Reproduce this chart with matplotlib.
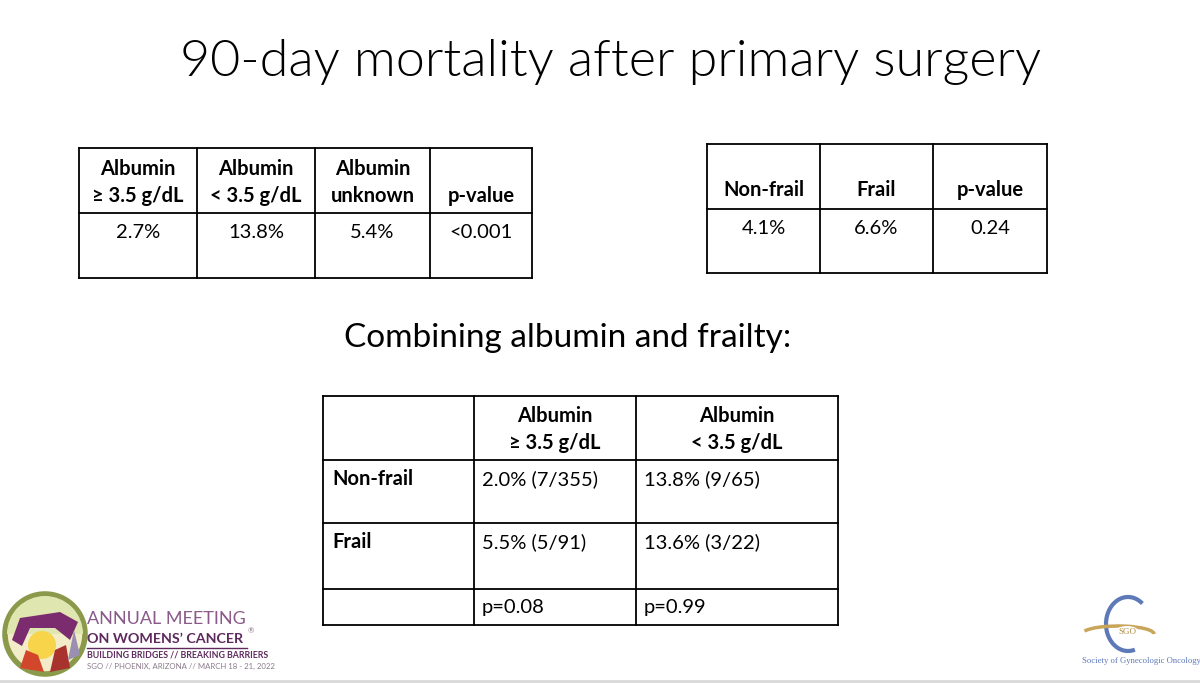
import matplotlib

matplotlib.use("Agg")
import matplotlib.pyplot as plt
from matplotlib.patches import Circle, Wedge, Polygon, Arc, Ellipse

plt.rcParams["font.family"] = ["Lato", "DejaVu Sans"]

title = "90-day mortality after primary surgery"
subtitle = "Combining albumin and frailty:"

# table 1: albumin
albumin_headers = ["Albumin\n\u2265 3.5 g/dL", "Albumin\n< 3.5 g/dL", "Albumin\nunknown", "p-value"]
albumin_values = ["2.7%", "13.8%", "5.4%", "<0.001"]

# table 2: frailty
frailty_headers = ["Non-frail", "Frail", "p-value"]
frailty_values = ["4.1%", "6.6%", "0.24"]

# table 3: combined
combo_cols = ["Albumin\n\u2265 3.5 g/dL", "Albumin\n< 3.5 g/dL"]
combo_rows = ["Non-frail", "Frail", ""]
combo_values = [
    ["2.0% (7/355)", "13.8% (9/65)"],
    ["5.5% (5/91)", "13.6% (3/22)"],
    ["p=0.08", "p=0.99"],
]

W, H = 1200, 683
fig = plt.figure(figsize=(12, 6.83), dpi=100)
ax = fig.add_axes([0, 0, 1, 1])
ax.set_xlim(0, W)
ax.set_ylim(H, 0)
ax.axis("off")

LW = 1.3
FS = 14.5


def grid(xs, ys):
    for x in xs:
        ax.plot([x, x], [ys[0], ys[-1]], color="black", lw=LW, solid_capstyle="projecting")
    for y in ys:
        ax.plot([xs[0], xs[-1]], [y, y], color="black", lw=LW, solid_capstyle="projecting")


ax.text(611, 62, title, ha="center", va="center", fontsize=37.5, fontweight=300,
        color="black")
ax.text(568, 338, subtitle, ha="center", va="center", fontsize=24, color="black")

# table 1
xs1 = [79, 197, 315, 430, 532]
ys1 = [148, 213, 278]
grid(xs1, ys1)
for i, (h, v) in enumerate(zip(albumin_headers, albumin_values)):
    cx = (xs1[i] + xs1[i + 1]) / 2
    ax.text(cx, 206, h, ha="center", va="bottom", fontsize=FS, fontweight="bold",
            linespacing=1.45)
    ax.text(cx, 233, v, ha="center", va="center", fontsize=FS)

# table 2
xs2 = [707, 820, 933, 1047]
ys2 = [144, 209, 273]
grid(xs2, ys2)
for i, (h, v) in enumerate(zip(frailty_headers, frailty_values)):
    cx = (xs2[i] + xs2[i + 1]) / 2
    ax.text(cx, 190, h, ha="center", va="center", fontsize=FS, fontweight="bold")
    ax.text(cx, 228, v, ha="center", va="center", fontsize=FS)

# table 3
xs3 = [323, 474, 636, 838]
ys3 = [396, 460, 523, 589, 625]
grid(xs3, ys3)
for j, h in enumerate(combo_cols):
    cx = (xs3[j + 1] + xs3[j + 2]) / 2
    ax.text(cx, 453, h, ha="center", va="bottom", fontsize=FS, fontweight="bold",
            linespacing=1.45)
for i, r in enumerate(combo_rows):
    ty = ys3[i + 1] + 19
    ax.text(xs3[0] + 9, ty, r, ha="left", va="center", fontsize=FS, fontweight="bold")
    for j, v in enumerate(combo_values[i]):
        ax.text(xs3[j + 1] + 8, ty, v, ha="left", va="center", fontsize=FS)

# left logo (meeting badge)
ax.add_patch(Circle((45, 634), 40, facecolor="#f3ecc8", edgecolor="#8a9a4a", lw=4))
ax.add_patch(Wedge((45, 634), 38, 180, 360, facecolor="#dfe6b0", edgecolor="none"))
ax.add_patch(Circle((42, 645), 14, facecolor="#f7d44a", edgecolor="none"))
ax.add_patch(Polygon([[12, 640], [20, 618], [60, 612], [78, 622], [70, 640], [55, 628],
                      [30, 628], [22, 646]], facecolor="#7b2c6e", edgecolor="none"))
ax.add_patch(Polygon([[20, 668], [26, 650], [38, 655], [44, 672]], facecolor="#d2462c",
                     edgecolor="none"))
ax.add_patch(Polygon([[50, 672], [55, 650], [66, 645], [70, 668]], facecolor="#a8322e",
                     edgecolor="none"))
ax.add_patch(Polygon([[68, 660], [74, 630], [80, 655]], facecolor="#9a8fb0",
                     edgecolor="none"))
ax.text(87, 619, "ANNUAL MEETING", ha="left", va="center", fontsize=13, color="#8a5a8a")
ax.text(87, 639, "ON WOMENS\u2019 CANCER", ha="left", va="center", fontsize=10.3,
        fontweight="bold", color="#5e2a5e")
ax.text(248, 631, "\u00ae", ha="left", va="center", fontsize=5.5, color="#8a7a8a")
ax.plot([87, 247], [648, 648], color="#5e2a5e", lw=1)
ax.text(87, 655, "BUILDING BRIDGES // BREAKING BARRIERS", ha="left", va="center",
        fontsize=6.3, fontweight="bold", color="#5e2a5e")
ax.text(87, 666, "SGO // PHOENIX, ARIZONA // MARCH 18 - 21, 2022", ha="left", va="center",
        fontsize=5.6, color="#8a7a8a")

# right logo (SGO)
ax.add_patch(Arc((1128, 624), 44, 54, theta1=75, theta2=305, color="#5d79b8", lw=3))
ax.add_patch(Arc((1118, 634), 72, 16, theta1=185, theta2=360, color="#c9a55a", lw=2.5))
ax.add_patch(Ellipse((1127, 632), 24, 12, facecolor="white", edgecolor="none"))
ax.text(1127, 632, "SGO", ha="center", va="center", fontsize=6.5, color="#b08a40",
        family="Liberation Serif")
ax.text(1082, 661, "Society of Gynecologic Oncology", ha="left", va="center",
        fontsize=6.2, color="#5d79b8", family="Liberation Serif")

ax.plot([0, W], [681, 681], color="#d9d9d9", lw=2)

fig.savefig("out.png", dpi=100)
